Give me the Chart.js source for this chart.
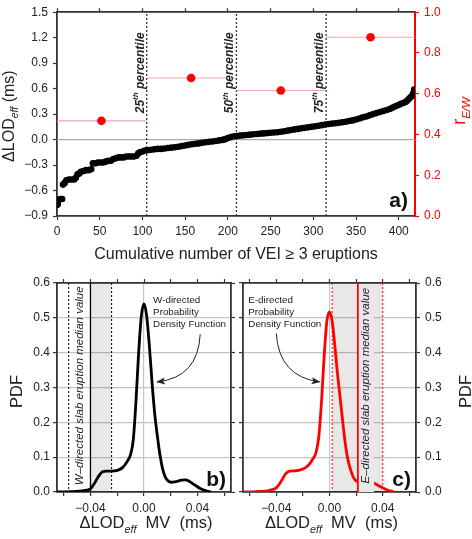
<!DOCTYPE html>
<html>
<head>
<meta charset="utf-8">
<script src="https://cdn.jsdelivr.net/npm/chart.js@4.4.1/dist/chart.umd.min.js"></script>
<style>
  body { margin: 0; background: #fff; }
  canvas { position: absolute; left: 0; top: 0; }
</style>
</head>
<body>
<canvas id="panelA" width="472" height="539"></canvas>
<canvas id="panelB" width="472" height="539"></canvas>
<canvas id="panelC" width="472" height="539"></canvas>
<script>
// ---- panel a: sorted dLOD_eff of VEI >= 3 eruptions ----
const eruptionNo = [0, 1, 2, 4, 6, 7, 9, 11, 14, 17, 20, 22, 24, 26, 28, 31, 34, 37, 40, 42,
  45, 48, 51, 54, 57, 60, 63, 66, 69, 72, 75, 78, 81, 84, 87, 90, 93, 95, 97, 100,
  103, 106, 110, 114, 118, 122, 126, 130, 134, 138, 142, 146, 150, 154, 158, 162, 166, 170, 174, 178,
  182, 186, 190, 194, 197, 200, 203, 206, 210, 214, 218, 222, 226, 230, 234, 238, 242, 246, 250, 254,
  258, 262, 266, 270, 274, 278, 282, 286, 290, 294, 298, 302, 306, 310, 314, 318, 322, 326, 330, 334,
  338, 342, 346, 350, 354, 358, 362, 366, 370, 374, 378, 382, 386, 390, 393, 396, 399, 402, 405, 408,
  410, 412, 414, 416, 417, 418];
const dLodEff = [-0.77, -0.76, -0.71, -0.70, -0.70, -0.53, -0.51, -0.48, -0.47, -0.47, -0.47, -0.45, -0.41, -0.40, -0.38, -0.37, -0.36, -0.36, -0.35, -0.28,
  -0.28, -0.27, -0.27, -0.27, -0.26, -0.25, -0.25, -0.23, -0.22, -0.21, -0.21, -0.21, -0.20, -0.20, -0.20, -0.20, -0.19, -0.165, -0.15, -0.14,
  -0.13, -0.125, -0.12, -0.115, -0.11, -0.11, -0.105, -0.10, -0.095, -0.09, -0.085, -0.077, -0.07, -0.062, -0.055, -0.05, -0.045, -0.037, -0.031, -0.027,
  -0.022, -0.017, -0.01, -0.004, 0.005, 0.018, 0.027, 0.036, 0.042, 0.046, 0.050, 0.054, 0.058, 0.062, 0.066, 0.070, 0.073, 0.076, 0.080, 0.083,
  0.087, 0.092, 0.098, 0.105, 0.113, 0.120, 0.126, 0.132, 0.138, 0.144, 0.150, 0.156, 0.162, 0.170, 0.178, 0.184, 0.188, 0.193, 0.198, 0.204,
  0.210, 0.218, 0.226, 0.236, 0.248, 0.262, 0.272, 0.285, 0.300, 0.312, 0.325, 0.336, 0.348, 0.362, 0.378, 0.392, 0.405, 0.418, 0.430, 0.442,
  0.460, 0.480, 0.500, 0.520, 0.545, 0.590];
const groupBounds = [0, 105, 210, 315, 419];
const groupCentre = [52, 157, 262, 367];
const ratioEW = [0.467, 0.677, 0.616, 0.877];
const percentileAt = [105, 210, 315];
const percentileName = ['25', '50', '75'];

// ---- panels b, c: probability density of dLOD_eff median value ----
const pdfXW = [-0.065, -0.055, -0.045, -0.040, -0.037, -0.034, -0.031, -0.028, -0.024, -0.020, -0.016, -0.013, -0.010, -0.008, -0.006, -0.004, -0.002,
  0.000, 0.002, 0.004, 0.006, 0.008, 0.010, 0.012, 0.014, 0.016, 0.018, 0.020, 0.024, 0.028, 0.031, 0.034, 0.038, 0.042, 0.046, 0.050];
const pdfW = [0.000, 0.001, 0.004, 0.009, 0.025, 0.045, 0.058, 0.060, 0.060, 0.062, 0.070, 0.085, 0.108, 0.150, 0.260, 0.400, 0.505,
  0.540, 0.505, 0.420, 0.315, 0.225, 0.160, 0.105, 0.065, 0.042, 0.032, 0.028, 0.030, 0.034, 0.035, 0.030, 0.020, 0.010, 0.004, 0.000];
const pdfXE = [-0.065, -0.055, -0.045, -0.040, -0.036, -0.033, -0.030, -0.025, -0.020, -0.016, -0.013, -0.010, -0.008, -0.006, -0.004, -0.002,
  0.000, 0.002, 0.004, 0.006, 0.008, 0.010, 0.012, 0.014, 0.016, 0.018, 0.020, 0.024, 0.028, 0.032, 0.036, 0.040, 0.044, 0.048];
const pdfE = [0.000, 0.001, 0.005, 0.012, 0.033, 0.052, 0.060, 0.061, 0.066, 0.076, 0.092, 0.115, 0.160, 0.260, 0.390, 0.490,
  0.517, 0.490, 0.420, 0.340, 0.270, 0.200, 0.135, 0.090, 0.062, 0.042, 0.032, 0.030, 0.030, 0.028, 0.020, 0.012, 0.005, 0.001];
const wMedian = -0.040, wLow = -0.0563, wHigh = -0.0242;
const eMedian = 0.0213, eLow = 0.002, eHigh = 0.040;

const FONT = '"Liberation Sans", Arial, Helvetica, sans-serif';
const INK = '#222';
const EDGE = '#333';
const RED = '#f00';
const font = (size, style) => (style || '') + ' ' + size + 'px ' + FONT;

// fixed axis box sizes, so every plot area lands where the figure has it
const fixSize = n => scale => {
  if (scale.isHorizontal()) scale.height = n; else scale.width = n;
};

// text made of parts with different fonts (subscripts, superscripts)
function drawRich(ctx, parts, x, y, opt) {
  ctx.save();
  ctx.translate(x, y);
  if (opt.angle) ctx.rotate(opt.angle);
  ctx.fillStyle = opt.color || INK;
  ctx.textBaseline = opt.baseline || 'alphabetic';
  ctx.textAlign = 'left';
  let w = 0;
  parts.forEach(p => { ctx.font = p.font; w += ctx.measureText(p.t).width; });
  let cx = opt.align === 'center' ? -w / 2 : (opt.align === 'right' ? -w : 0);
  parts.forEach(p => {
    ctx.font = p.font;
    ctx.fillText(p.t, cx, p.dy || 0);
    cx += ctx.measureText(p.t).width;
  });
  ctx.restore();
}

function vline(chart, v, color, width, dash) {
  const { ctx, chartArea: a, scales: { x } } = chart;
  const px = x.getPixelForValue(v);
  ctx.save();
  ctx.strokeStyle = color;
  ctx.lineWidth = width;
  ctx.setLineDash(dash || []);
  ctx.beginPath();
  ctx.moveTo(px, a.top);
  ctx.lineTo(px, a.bottom);
  ctx.stroke();
  ctx.restore();
}

function arrow(chart, from, ctrl, to) {
  const { ctx, scales: { x, y } } = chart;
  const p0 = [x.getPixelForValue(from[0]), y.getPixelForValue(from[1])];
  const p1 = [x.getPixelForValue(ctrl[0]), y.getPixelForValue(ctrl[1])];
  const p2 = [x.getPixelForValue(to[0]), y.getPixelForValue(to[1])];
  ctx.save();
  ctx.strokeStyle = INK;
  ctx.fillStyle = INK;
  ctx.lineWidth = 1;
  ctx.beginPath();
  ctx.moveTo(p0[0], p0[1]);
  ctx.quadraticCurveTo(p1[0], p1[1], p2[0], p2[1]);
  ctx.stroke();
  const ang = Math.atan2(p2[1] - p1[1], p2[0] - p1[0]);
  ctx.translate(p2[0], p2[1]);
  ctx.rotate(ang);
  ctx.beginPath();
  ctx.moveTo(1, 0);
  ctx.lineTo(-8, -3.5);
  ctx.lineTo(-6, 0);
  ctx.lineTo(-8, 3.5);
  ctx.closePath();
  ctx.fill();
  ctx.restore();
}

const lodTitle = size => [
  { t: '\u0394LOD', font: font(size) },
  { t: 'eff', font: font(size * 0.65, 'italic'), dy: size * 0.28 }
];

const fmt = d => v => v.toFixed(d).replace('-', '\u2212');

// ---------------- panel a ----------------
const percentileLabels = {
  id: 'percentileLabels',
  afterDatasetsDraw(chart) {
    const { ctx, chartArea: a, scales: { x, y } } = chart;
    percentileAt.forEach((p, i) => {
      drawRich(ctx, [
        { t: percentileName[i], font: font(12, 'italic bold') },
        { t: 'th', font: font(8, 'italic bold'), dy: -4.5 },
        { t: ' percentile', font: font(12, 'italic bold') }
      ], x.getPixelForValue(p) - 6.5, y.getPixelForValue(0.31), { angle: -Math.PI / 2, baseline: 'middle' });
    });
    ctx.save();
    ctx.fillStyle = '#111';
    ctx.font = font(21, 'bold');
    ctx.textAlign = 'right';
    ctx.fillText('a)', a.right - 7, a.bottom - 9);
    ctx.restore();
  },
  afterDraw(chart) {
    const { ctx, chartArea: a } = chart;
    drawRich(ctx, lodTitle(16).concat([{ t: ' (ms)', font: font(16) }]), 14, (a.top + a.bottom) / 2 + 2,
      { angle: -Math.PI / 2, align: 'center' });
    drawRich(ctx, [
      { t: 'r', font: font(18) },
      { t: 'E/W', font: font(11.5, 'italic'), dy: 5 }
    ], 465, 111, { angle: -Math.PI / 2, align: 'center', color: RED });
    ctx.save();
    ctx.fillStyle = INK;
    ctx.font = font(16);
    ctx.textAlign = 'center';
    ctx.fillText('Cumulative number of VEI \u2265 3 eruptions', (a.left + a.right) / 2, 259);
    ctx.restore();
  }
};

const greyTick = { drawOnChartArea: false, tickLength: 4, tickColor: EDGE, tickWidth: 1.2 };
const darkBorder = { color: EDGE, width: 1.8 };
const tickFont = { family: FONT, size: 12 };

new Chart(document.getElementById('panelA'), {
  type: 'scatter',
  data: {
    datasets: [
      {
        data: groupCentre.map((n, i) => ({ x: n, y: ratioEW[i] })),
        yAxisID: 'y2', pointRadius: 4.3, backgroundColor: RED, borderWidth: 0
      },
      {
        data: eruptionNo.map((n, i) => ({ x: n, y: dLodEff[i] })),
        yAxisID: 'y', pointRadius: 3.3, backgroundColor: '#000', borderWidth: 0
      },
      ...ratioEW.map((r, i) => ({
        type: 'line', yAxisID: 'y2',
        data: [{ x: groupBounds[i], y: r }, { x: groupBounds[i + 1], y: r }],
        borderColor: '#f4a5a5', borderWidth: 1.1, pointRadius: 0
      })),
      ...percentileAt.map(p => ({
        type: 'line', yAxisID: 'y',
        data: [{ x: p, y: -0.9 }, { x: p, y: 1.5 }],
        borderColor: EDGE, borderWidth: 1.3, borderDash: [2, 2], pointRadius: 0
      })),
      {
        type: 'line', yAxisID: 'y',
        data: [{ x: 0, y: 0 }, { x: 419, y: 0 }],
        borderColor: '#aaa', borderWidth: 1.2, pointRadius: 0
      }
    ]
  },
  options: {
    responsive: false,
    animation: false,
    devicePixelRatio: 1,
    layout: { padding: { left: 0, top: 0, right: 0, bottom: 293 } },
    plugins: { legend: { display: false }, tooltip: { enabled: false } },
    scales: {
      x: {
        type: 'linear', position: 'bottom', min: 0, max: 419, afterFit: fixSize(30),
        ticks: { stepSize: 50, includeBounds: false, color: INK, font: tickFont, padding: 4, maxRotation: 0 },
        grid: greyTick, border: darkBorder
      },
      xTop: {
        type: 'linear', position: 'top', min: 0, max: 419, afterFit: fixSize(6),
        ticks: { stepSize: 50, includeBounds: false, display: false },
        grid: greyTick, border: darkBorder
      },
      y: {
        position: 'left', min: -0.9, max: 1.5, afterFit: fixSize(57),
        ticks: { stepSize: 0.3, color: INK, font: tickFont, padding: 5, callback: fmt(1) },
        grid: greyTick, border: darkBorder
      },
      y2: {
        position: 'right', min: 0, max: 1, afterFit: fixSize(57),
        ticks: { stepSize: 0.2, color: RED, font: tickFont, padding: 5, callback: fmt(1) },
        grid: { drawOnChartArea: false, tickLength: 4, tickColor: RED, tickWidth: 1.2 },
        border: { color: RED, width: 2 }
      }
    }
  },
  plugins: [percentileLabels]
});

// ---------------- panels b and c ----------------
function pdfOptions(pad, side) {
  const lab = { color: INK, font: tickFont, padding: 3, stepSize: 0.1, callback: fmt(1) };
  const hidden = { stepSize: 0.1, display: false };
  return {
    responsive: false,
    animation: false,
    devicePixelRatio: 1,
    layout: { padding: pad },
    plugins: { legend: { display: false }, tooltip: { enabled: false } },
    scales: {
      x: {
        type: 'linear', position: 'bottom', min: -0.065, max: 0.065, afterFit: fixSize(30),
        ticks: {
          stepSize: 0.02, includeBounds: false, color: INK, font: tickFont, padding: 5, maxRotation: 0, autoSkip: false,
          callback: v => (Math.round(v * 100) % 4 === 0 ? v.toFixed(2).replace('-', '\u2212') : '')
        },
        grid: {
          tickLength: 4, tickColor: EDGE, tickWidth: 1.2, lineWidth: 1.2,
          color: c => (c.tick && Math.abs(c.tick.value) < 1e-9 ? '#c4c4c4' : 'rgba(0,0,0,0)')
        },
        border: darkBorder
      },
      xTop: {
        type: 'linear', position: 'top', min: -0.065, max: 0.065, afterFit: fixSize(10),
        ticks: { stepSize: 0.02, includeBounds: false, display: false },
        grid: greyTick, border: darkBorder
      },
      y: {
        position: 'left', min: 0, max: 0.6, afterFit: fixSize(side === 'left' ? 57 : 10),
        ticks: side === 'left' ? lab : hidden,
        grid: { tickLength: 4, tickColor: EDGE, tickWidth: 1.2, color: '#c4c4c4', lineWidth: 1.3 },
        border: darkBorder
      },
      y2: {
        position: 'right', min: 0, max: 0.6, afterFit: fixSize(side === 'right' ? 56 : 10),
        ticks: side === 'right' ? Object.assign({}, lab, { padding: 5 }) : hidden,
        grid: greyTick, border: darkBorder
      }
    }
  };
}

function pdfCaption(chart, name, x0) {
  const { ctx, scales: { x, y } } = chart;
  ctx.save();
  ctx.fillStyle = INK;
  ctx.font = font(9.8);
  ctx.textBaseline = 'middle';
  [name + '-directed', 'Probability', 'Density Function'].forEach((t, i) => {
    ctx.fillText(t, x.getPixelForValue(x0), y.getPixelForValue(0.550) + i * 11.7);
  });
  ctx.restore();
}

function panelTitles(chart, side) {
  const { ctx, chartArea: a, scales: { x } } = chart;
  drawRich(ctx, lodTitle(16.5).concat([{ t: '  MV  (ms)', font: font(16.5) }]),
    x.getPixelForValue(0) + 2, 528, { align: 'center' });
  drawRich(ctx, [{ t: 'PDF', font: font(16.5) }],
    side === 'left' ? 22 : 471, (a.top + a.bottom) / 2 + 4, { angle: -Math.PI / 2, align: 'center' });
}

function panelTag(chart, tag) {
  const { ctx, chartArea: a } = chart;
  ctx.save();
  ctx.fillStyle = '#111';
  ctx.font = font(21, 'bold');
  ctx.textAlign = 'right';
  ctx.fillText(tag, a.right - 5, a.bottom - 6);
  ctx.restore();
}

const panelBDecor = {
  id: 'panelBDecor',
  beforeDatasetsDraw(chart) {
    const { ctx, chartArea: a, scales: { x, y } } = chart;
    ctx.save();
    ctx.fillStyle = 'rgba(0,0,0,0.09)';
    const l = x.getPixelForValue(wMedian), r = x.getPixelForValue(wHigh);
    ctx.fillRect(l, a.top, r - l, a.bottom - a.top);
    ctx.restore();
    vline(chart, wLow, '#000', 1, [2, 2]);
    vline(chart, wHigh, '#000', 1, [2, 2]);
    vline(chart, wMedian, '#000', 1.3);
    drawRich(ctx, [{ t: 'W\u2013directed slab eruption median value', font: font(11.5, 'italic') }],
      x.getPixelForValue((wLow + wMedian) / 2), y.getPixelForValue(0.305),
      { angle: -Math.PI / 2, align: 'center', baseline: 'middle' });
  },
  afterDatasetsDraw(chart) {
    pdfCaption(chart, 'W', 0.0068);
    arrow(chart, [0.042, 0.453], [0.0405, 0.329], [0.0098, 0.316]);
    panelTag(chart, 'b)');
  },
  afterDraw(chart) { panelTitles(chart, 'left'); }
};

const panelCDecor = {
  id: 'panelCDecor',
  beforeDatasetsDraw(chart) {
    const { ctx, chartArea: a, scales: { x } } = chart;
    ctx.save();
    ctx.fillStyle = 'rgba(0,0,0,0.09)';
    const l = x.getPixelForValue(eLow), r = x.getPixelForValue(eHigh);
    ctx.fillRect(l, a.top, r - l, a.bottom - a.top);
    ctx.restore();
    vline(chart, eLow, RED, 1, [2, 2]);
    vline(chart, eHigh, RED, 1, [2, 2]);
  },
  afterDatasetsDraw(chart) {
    const { ctx, chartArea: a, scales: { x, y } } = chart;
    const l = x.getPixelForValue(eMedian), r = x.getPixelForValue(0.0335);
    ctx.save();
    ctx.fillStyle = '#e8e8e8';
    ctx.fillRect(l, a.top + 1, r - l, a.bottom - a.top - 1);
    ctx.restore();
    drawRich(ctx, [{ t: 'E\u2013directed slab eruption median value', font: font(11.5, 'italic') }],
      x.getPixelForValue(0.0275), y.getPixelForValue(0.305),
      { angle: -Math.PI / 2, align: 'center', baseline: 'middle' });
    vline(chart, eMedian, RED, 1.8);
    pdfCaption(chart, 'E', -0.061);
    arrow(chart, [-0.040, 0.455], [-0.038, 0.332], [-0.0075, 0.316]);
    panelTag(chart, 'c)');
  },
  afterDraw(chart) { panelTitles(chart, 'right'); }
};

new Chart(document.getElementById('panelB'), {
  type: 'line',
  data: {
    datasets: [{
      data: pdfXW.map((v, i) => ({ x: v, y: pdfW[i] })),
      borderColor: '#000', borderWidth: 2.8, pointRadius: 0, cubicInterpolationMode: 'monotone', fill: false
    }]
  },
  options: pdfOptions({ left: 0, top: 273, right: 231, bottom: 17 }, 'left'),
  plugins: [panelBDecor]
});

new Chart(document.getElementById('panelC'), {
  type: 'line',
  data: {
    datasets: [{
      data: pdfXE.map((v, i) => ({ x: v, y: pdfE[i] })),
      borderColor: RED, borderWidth: 2.8, pointRadius: 0, cubicInterpolationMode: 'monotone', fill: false
    }]
  },
  options: pdfOptions({ left: 233, top: 273, right: 0, bottom: 17 }, 'right'),
  plugins: [panelCDecor]
});
</script>
</body>
</html>
